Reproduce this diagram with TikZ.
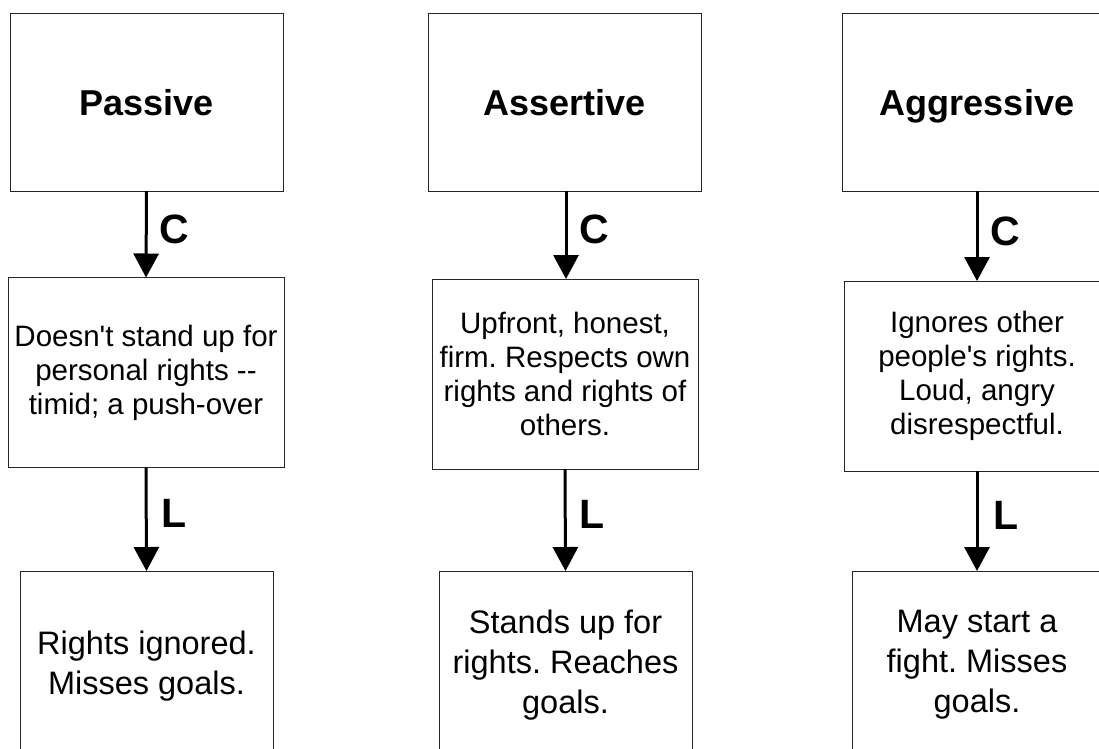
\documentclass[tikz,border=0pt]{standalone}
\usepackage{fontspec}
\setmainfont{Liberation Sans}
\usetikzlibrary{arrows.meta}
\begin{document}
\frenchspacing
\begin{tikzpicture}[x=1pt,y=-1pt,
  box/.style={draw=black!85, line width=1pt, fill=white, inner sep=0pt, outer sep=0pt, align=center},
  titlebox/.style={box, minimum width=273pt, minimum height=178pt, text height=26pt, text depth=0pt, font=\fontsize{36}{42}\selectfont\bfseries},
  midbox/.style={box, minimum height=190pt, font=\fontsize{29.5}{34}\selectfont},
  endbox/.style={box, minimum height=180pt, font=\fontsize{32.5}{40}\selectfont},
  arr/.style={line width=3pt, -{Triangle[length=24pt,width=25pt]}},
  lab/.style={inner sep=0pt, font=\fontsize{41}{41}\selectfont\bfseries}]
\fill[white] (0,0) rectangle (1099,748);
\useasboundingbox (0,0) rectangle (1099,748);
\clip (0,0) rectangle (1099,748);
% column 1
\node[titlebox] (t1) at (146.5,102) {Passive};
\node[midbox, minimum width=276pt] (m1) at (146,372.5) {Doesn\textquotesingle t stand up for\\personal rights -{}-\\timid; a push-over};
\node[endbox, minimum width=253pt] (b1) at (146.5,661) {};
\node[endbox, draw=none, fill=none, minimum width=0pt, minimum height=0pt] (b1t) at (146.5,666) {Rights ignored.\\Misses goals.};
% column 2
\node[titlebox] (t2) at (564.5,102) {Assertive};
\node[midbox, minimum width=266pt] (m2) at (565,374) {Upfront, honest,\\firm. Respects own\\rights and rights of\\others.};
\node[endbox, minimum width=253pt] (b2) at (565.5,661) {};
\node[endbox, draw=none, fill=none, minimum width=0pt, minimum height=0pt] (b2t) at (565.5,665) {Stands up for\\rights. Reaches\\goals.};
% column 3
\node[titlebox, minimum width=270pt] (t3) at (977,102) {Aggressive};
\node[midbox, minimum width=266pt] (m3) at (977,376) {Ignores other\\people\textquotesingle s rights.\\Loud, angry\\disrespectful.};
\node[endbox, minimum width=250pt] (b3) at (977,661) {};
\node[endbox, draw=none, fill=none, minimum width=0pt, minimum height=0pt] (b3t) at (977,665) {May start a\\fight. Misses\\goals.};
% arrows
\draw[arr] (t1.south) -- (m1.north);
\draw[arr] (m1.south) -- (b1.north);
\draw[arr] (t2.south -| 566,0) -- (m2.north -| 566,0);
\draw[arr] (m2.south) -- (b2.north);
\draw[arr] (t3.south) -- (m3.north);
\draw[arr] (m3.south) -- (b3.north);
% labels
\node[lab] (c1) at (174,229) {C};
\node[lab] (c2) at (594,229) {C};
\node[lab] (c3) at (1005,231) {C};
\node[lab] (l1) at (174.5,513) {L};
\node[lab] (l2) at (592,514) {L};
\node[lab] (l3) at (1006,515) {L};
\end{tikzpicture}
\end{document}
